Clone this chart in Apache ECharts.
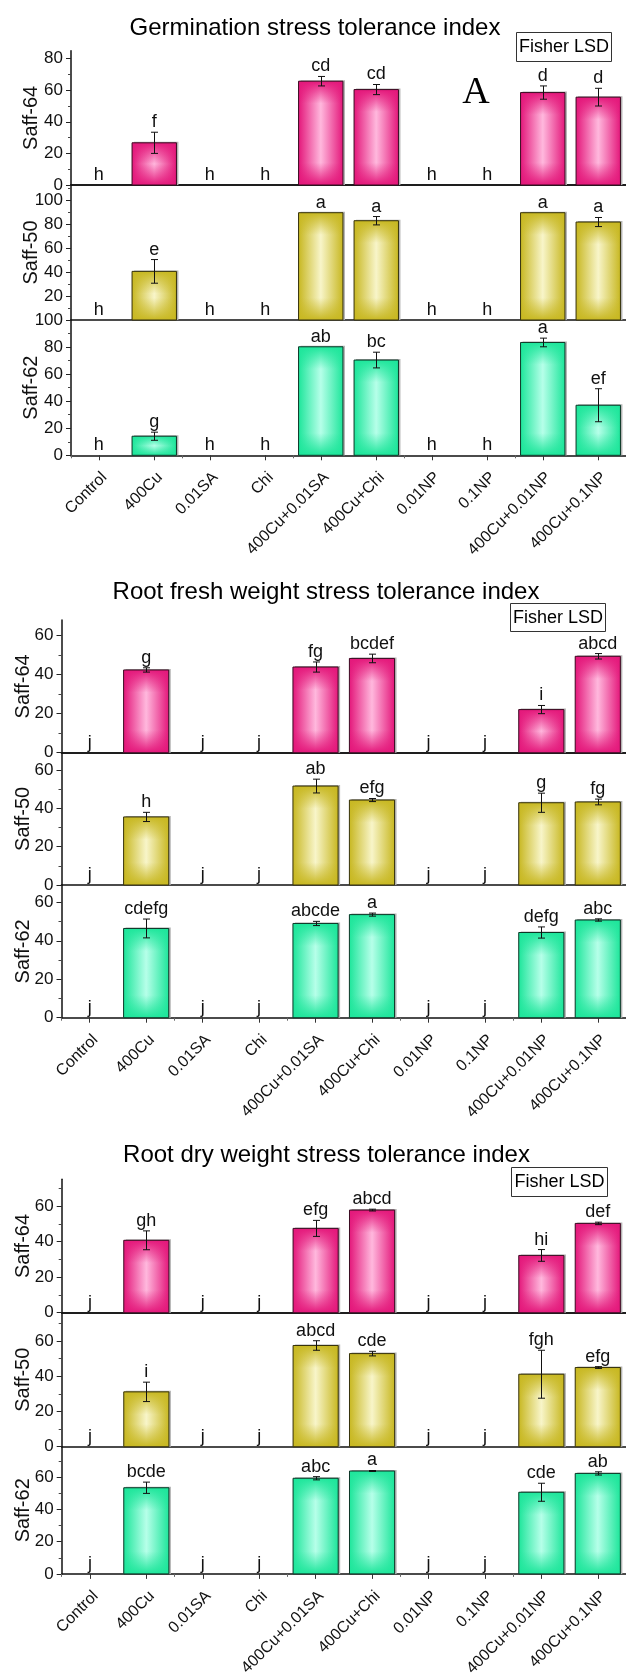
<!DOCTYPE html>
<html>
<head>
<meta charset="utf-8">
<script src="https://cdn.jsdelivr.net/npm/echarts@6/dist/echarts.min.js"></script>
<style>
  html, body { margin: 0; padding: 0; background: #fff; }
  #chart { width: 626px; height: 1679px; }
</style>
</head>
<body>
<div id="chart"></div>
<script>
// ---- data ----
const categories = ['Control', '400Cu', '0.01SA', 'Chi', '400Cu+0.01SA', '400Cu+Chi', '0.01NP', '0.1NP', '400Cu+0.01NP', '400Cu+0.1NP'];
const genotypes = ['Saff-64', 'Saff-50', 'Saff-62'];
const yTickValues = [0, 20, 40, 60, 80, 100];
const yMinorValues = [10, 30, 50, 70, 90, 110];

// Germination stress tolerance index
const germ64 = [0, 26.7, 0, 0, 65.7, 60.4, 0, 0, 58.5, 55.6];
const germ64Err = [0, 6.7, 0, 0, 3.0, 3.2, 0, 0, 4.2, 5.6];
const germ64Letters = ['h', 'f', 'h', 'h', 'cd', 'cd', 'h', 'h', 'd', 'd'];
const germ50 = [0, 40.7, 0, 0, 89.8, 83.1, 0, 0, 89.8, 82.0];
const germ50Err = [0, 9.9, 0, 0, 0, 3.5, 0, 0, 0, 3.8];
const germ50Letters = ['h', 'e', 'h', 'h', 'a', 'a', 'h', 'h', 'a', 'a'];
const germ62 = [0, 14.1, 0, 0, 80.2, 70.4, 0, 0, 83.4, 37.0];
const germ62Err = [0, 3.0, 0, 0, 0, 5.8, 0, 0, 3.2, 12.2];
const germ62Letters = ['h', 'g', 'h', 'h', 'ab', 'bc', 'h', 'h', 'a', 'ef'];

// Root fresh weight stress tolerance index
const rfw64 = [0, 42.4, 0, 0, 43.9, 48.3, 0, 0, 22.1, 49.4];
const rfw64Err = [0, 1.1, 0, 0, 2.6, 2.2, 0, 0, 2.1, 1.4];
const rfw64Letters = ['j', 'g', 'j', 'j', 'fg', 'bcdef', 'j', 'j', 'i', 'abcd'];
const rfw50 = [0, 35.5, 0, 0, 51.6, 44.3, 0, 0, 42.9, 43.3];
const rfw50Err = [0, 2.4, 0, 0, 3.6, 0.8, 0, 0, 5.0, 1.5];
const rfw50Letters = ['j', 'h', 'j', 'j', 'ab', 'efg', 'j', 'j', 'g', 'fg'];
const rfw62 = [0, 46.4, 0, 0, 49.0, 53.6, 0, 0, 44.3, 50.8];
const rfw62Err = [0, 4.9, 0, 0, 1.1, 0.8, 0, 0, 2.9, 0.6];
const rfw62Letters = ['j', 'cdefg', 'j', 'j', 'abcde', 'a', 'j', 'j', 'defg', 'abc'];

// Root dry weight stress tolerance index
const rdw64 = [0, 40.7, 0, 0, 47.4, 57.7, 0, 0, 32.2, 50.2];
const rdw64Err = [0, 5.3, 0, 0, 4.5, 0.5, 0, 0, 3.3, 0.7];
const rdw64Letters = ['j', 'gh', 'j', 'j', 'efg', 'abcd', 'j', 'j', 'hi', 'def'];
const rdw50 = [0, 31.1, 0, 0, 57.4, 52.8, 0, 0, 41.1, 44.9];
const rdw50Err = [0, 5.5, 0, 0, 2.7, 1.3, 0, 0, 13.6, 0.5];
const rdw50Letters = ['j', 'i', 'j', 'j', 'abcd', 'cde', 'j', 'j', 'fgh', 'efg'];
const rdw62 = [0, 53.5, 0, 0, 59.4, 63.9, 0, 0, 50.7, 62.4];
const rdw62Err = [0, 3.5, 0, 0, 1.0, 0.3, 0, 0, 5.6, 1.0];
const rdw62Letters = ['j', 'bcde', 'j', 'j', 'abc', 'a', 'j', 'j', 'cde', 'ab'];

// ---- layout ----
const FONT = '"Liberation Sans", Arial, sans-serif';
const palettes = [
  { edge: '#e4187b', mid: '#ffb8dd', line: '#3a0d22' },   // Saff-64
  { edge: '#c8b822', mid: '#f8f5c9', line: '#35310c' },   // Saff-50
  { edge: '#1ee69b', mid: '#b6ffe9', line: '#0d3526' }    // Saff-62
];

const panels = [
  {
    title: 'Germination stress tolerance index', titleX: 315, titleY: 28,
    left: 71, width: 563, tops: [50.7, 185, 320], bottoms: [185, 320, 455.3],
    max: [85, 113, 100], hideZero: [false, true, false], nameGap: 30,
    box: [516, 32, 95, 29], tag: true,
    data: [[germ64, germ64Err, germ64Letters], [germ50, germ50Err, germ50Letters], [germ62, germ62Err, germ62Letters]]
  },
  {
    title: 'Root fresh weight stress tolerance index', titleX: 326, titleY: 592,
    left: 61.5, width: 572, tops: [620, 752.7, 885], bottoms: [752.7, 885, 1017.7],
    max: [68, 69, 69], hideZero: [false, false, false], nameGap: 28,
    box: [510, 603, 95, 28], tag: false,
    data: [[rfw64, rfw64Err, rfw64Letters], [rfw50, rfw50Err, rfw50Letters], [rfw62, rfw62Err, rfw62Letters]]
  },
  {
    title: 'Root dry weight stress tolerance index', titleX: 326.5, titleY: 1155,
    left: 61.7, width: 572, tops: [1179.3, 1312.7, 1446.7], bottoms: [1312.7, 1446.7, 1580],
    max: [75, 76, 79], hideZero: [false, false, false], nameGap: 28,
    box: [511, 1167, 96, 29], tag: false,
    data: [[rdw64, rdw64Err, rdw64Letters], [rdw50, rdw50Err, rdw50Letters], [rdw62, rdw62Err, rdw62Letters]]
  }
];

function withAlpha(hex, a) {
  const n = parseInt(hex.slice(1), 16);
  return 'rgba(' + ((n >> 16) & 255) + ',' + ((n >> 8) & 255) + ',' + (n & 255) + ',' + a + ')';
}

// Pillow-shaded bar with error bar and significance letter
function barRenderer(letters, pal) {
  return function (params, api) {
    const i = api.value(0);
    const v = api.value(1);
    const e = api.value(2);
    const base = api.coord([i, 0]);
    const top = api.coord([i, v]);
    const band = api.size([1, 0])[0];
    const w = band * 0.8;
    const x0 = base[0] - w / 2;
    const h = base[1] - top[1];
    const kids = [];
    if (h > 0.5) {
      kids.push({ type: 'rect', shape: { x: x0 + 2, y: top[1] - 1, width: w, height: h + 1 },
        style: { fill: '#b4b4b4' } });
      kids.push({ type: 'rect', shape: { x: x0, y: top[1], width: w, height: h },
        style: { fill: new echarts.graphic.LinearGradient(0, 0, 1, 0, [
          { offset: 0, color: pal.edge }, { offset: 0.5, color: pal.mid }, { offset: 1, color: pal.edge }]) } });
      const f = Math.min(0.5, (w * 0.5) / h);
      kids.push({ type: 'rect', shape: { x: x0, y: top[1], width: w, height: h },
        style: { fill: new echarts.graphic.LinearGradient(0, 0, 0, 1, [
          { offset: 0, color: withAlpha(pal.edge, 1) },
          { offset: f, color: withAlpha(pal.edge, 0) },
          { offset: 1 - f, color: withAlpha(pal.edge, 0) },
          { offset: 1, color: withAlpha(pal.edge, 1) }]) } });
      kids.push({ type: 'rect', shape: { x: x0, y: top[1], width: w, height: h },
        style: { fill: 'none', stroke: pal.line, lineWidth: 1 } });
    }
    if (e > 0) {
      const hi = api.coord([i, v + e])[1];
      const lo = api.coord([i, v - e])[1];
      const cx = Math.round(base[0]) + 0.5;
      const st = { stroke: '#111', lineWidth: 1 };
      kids.push({ type: 'line', shape: { x1: cx, y1: hi, x2: cx, y2: lo }, style: st });
      kids.push({ type: 'line', shape: { x1: cx - 3.5, y1: hi, x2: cx + 3.5, y2: hi }, style: st });
      kids.push({ type: 'line', shape: { x1: cx - 3.5, y1: lo, x2: cx + 3.5, y2: lo }, style: st });
    }
    const labelY = api.coord([i, v + e])[1] - 1;
    kids.push({ type: 'text', style: { text: letters[params.dataIndex], x: base[0], y: labelY,
      textAlign: 'center', textVerticalAlign: 'bottom', font: '18px ' + FONT, fill: '#111' } });
    return { type: 'group', children: kids };
  };
}

const grid = [], xAxis = [], yAxis = [], series = [], graphic = [];
const axisColor = '#111';

panels.forEach(function (p) {
  graphic.push({ type: 'text', x: p.titleX, y: p.titleY, z: 100,
    style: { text: p.title, font: '24px ' + FONT, fill: '#000', textAlign: 'center', textVerticalAlign: 'middle' } });
  graphic.push({ type: 'rect', z: 100, shape: { x: p.box[0] + 0.5, y: p.box[1] + 0.5, width: p.box[2], height: p.box[3] },
    style: { fill: '#fff', stroke: '#333', lineWidth: 1 } });
  graphic.push({ type: 'text', z: 101, x: p.box[0] + p.box[2] / 2 + 0.5, y: p.box[1] + p.box[3] / 2 + 1,
    style: { text: 'Fisher LSD', font: '18px ' + FONT, fill: '#000', textAlign: 'center', textVerticalAlign: 'middle' } });
  if (p.tag) {
    graphic.push({ type: 'text', z: 100, x: 476, y: 93,
      style: { text: 'A', font: '38px "Liberation Serif", "Times New Roman", serif', fill: '#000', textAlign: 'center', textVerticalAlign: 'middle' } });
  }

  for (let k = 0; k < 3; k++) {
    const g = grid.length;
    const isBottom = k === 2;
    grid.push({ left: p.left, width: p.width, top: p.tops[k], height: p.bottoms[k] - p.tops[k] });
    const mx = p.max[k];
    const labelVals = yTickValues.filter(function (t) { return t <= mx && !(t === 0 && p.hideZero[k]); });
    const tickVals = yTickValues.filter(function (t) { return t <= mx; });
    const minorVals = yMinorValues.filter(function (t) { return t < mx; });

    xAxis.push({
      type: 'category', gridIndex: g, data: categories, position: 'bottom',
      axisLine: { show: true, lineStyle: { color: axisColor, width: 1.5 } },
      axisTick: { show: isBottom, alignWithLabel: true, length: 5, lineStyle: { color: '#333' } },
      axisLabel: { show: isBottom, rotate: 45, margin: 14, verticalAlign: 'top', fontSize: 16, fontFamily: FONT, color: '#111' },
      splitLine: { show: false }
    });
    if (isBottom) {
      xAxis.push({
        type: 'category', gridIndex: g, data: categories, position: 'bottom',
        axisLine: { show: false },
        axisTick: { show: true, alignWithLabel: false, length: 3, lineStyle: { color: '#666' } },
        axisLabel: { show: false }, splitLine: { show: false }
      });
    }
    if (k === 0) {
      xAxis.push({
        type: 'category', gridIndex: g, data: categories, position: 'top',
        axisLine: { show: true, lineStyle: { color: axisColor, width: 1.5 } },
        axisTick: { show: false }, axisLabel: { show: false }, splitLine: { show: false }
      });
    }
    const yMain = yAxis.length;
    yAxis.push({
      type: 'value', gridIndex: g, min: 0, max: mx, interval: 20, position: 'left',
      name: genotypes[k], nameLocation: 'middle', nameGap: p.nameGap, nameMoveOverlap: false,
      nameTextStyle: { fontSize: 20, fontFamily: FONT, color: '#111' },
      axisLine: { show: true, lineStyle: { color: axisColor, width: 1.5 } },
      axisTick: { show: true, length: 5, customValues: tickVals, lineStyle: { color: '#222' } },
      axisLabel: { show: true, customValues: labelVals, fontSize: 17, fontFamily: FONT, color: '#111', margin: 8 },
      splitLine: { show: false }
    });
    yAxis.push({
      type: 'value', gridIndex: g, min: 0, max: mx, interval: 20, position: 'left',
      axisLine: { show: false },
      axisTick: { show: true, length: 3, customValues: minorVals, lineStyle: { color: '#444' } },
      axisLabel: { show: false }, splitLine: { show: false }
    });

    const d = p.data[k];
    const xIdx = xAxis.findIndex(function (a) { return a.gridIndex === g; });
    series.push({
      type: 'custom', xAxisIndex: xIdx, yAxisIndex: yMain, clip: false,
      renderItem: barRenderer(d[2], palettes[k]),
      encode: { x: 0, y: 1 },
      data: d[0].map(function (v, i) { return [i, v, d[1][i]]; }),
      z: 3
    });
  }
});

const chart = echarts.init(document.getElementById('chart'), null, { renderer: 'canvas', width: 626, height: 1679 });
chart.setOption({
  animation: false,
  backgroundColor: '#ffffff',
  textStyle: { fontFamily: FONT },
  grid: grid, xAxis: xAxis, yAxis: yAxis, series: series, graphic: graphic
});
</script>
</body>
</html>
